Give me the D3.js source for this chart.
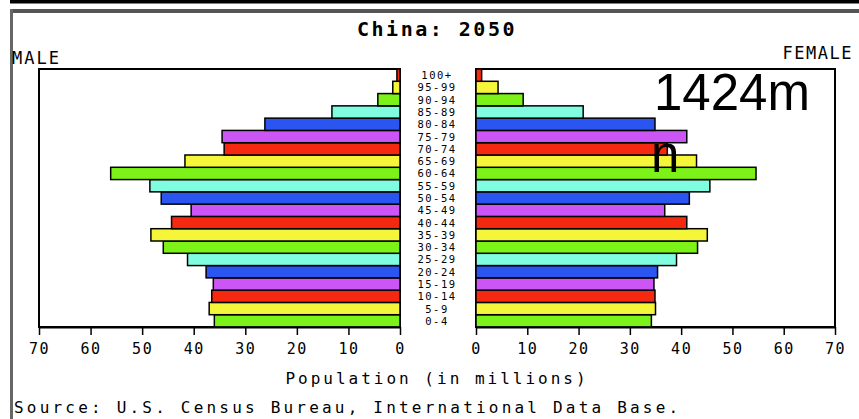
<!DOCTYPE html>
<html><head><meta charset="utf-8">
<script src="https://cdn.jsdelivr.net/npm/d3@7"></script>
<style>
html,body{margin:0;padding:0;background:#fff;}
svg{display:block;}
.mono{font-family:"DejaVu Sans Mono","Liberation Mono",monospace;}
</style></head>
<body>
<svg id="c" width="859" height="419"></svg>
<script>
const title = "China: 2050";
const ages = ["0-4","5-9","10-14","15-19","20-24","25-29","30-34","35-39","40-44","45-49","50-54","55-59","60-64","65-69","70-74","75-79","80-84","85-89","90-94","95-99","100+"];
const male   = [36.0,37.0,36.5,36.2,37.6,41.2,45.9,48.3,44.3,40.5,46.3,48.5,56.1,41.7,34.1,34.5,26.2,13.2,4.3,1.4,0.6];
const female = [34.2,35.0,34.9,34.7,35.4,39.1,43.2,45.1,41.1,36.8,41.6,45.6,54.6,43.0,37.3,41.1,34.9,20.9,9.2,4.3,1.1];
const palette = ["#7cf218","#f5f53a","#f52810","#cc55f5","#2a55f0","#80fce0"];
const ticks = [0,10,20,30,40,50,60,70];

const svg = d3.select("#c");

// outer frame
svg.append("rect").attr("x",10).attr("y",0).attr("width",849).attr("height",3.5).attr("fill","#000");
svg.append("rect").attr("x",10).attr("y",9).attr("width",849).attr("height",4).attr("fill","#555");
svg.append("rect").attr("x",10).attr("y",9).attr("width",3).attr("height",410).attr("fill","#666");

// title
svg.append("text").attr("class","mono").attr("x",437).attr("y",36).attr("text-anchor","middle")
  .attr("font-size",20).attr("font-weight","bold").attr("letter-spacing",2.5).text(title);
svg.append("text").attr("class","mono").attr("x",12).attr("y",64)
  .attr("font-size",17).attr("letter-spacing",2).text("MALE");
svg.append("text").attr("class","mono").attr("x",853).attr("y",59).attr("text-anchor","end")
  .attr("font-size",17).attr("letter-spacing",1.5).text("FEMALE");

const plotTop = 69, plotBottom = 327;
const y = d3.scaleBand().domain(ages).range([plotBottom, plotTop]).padding(0);
const xM = d3.scaleLinear().domain([0,70]).range([400,39]);
const xF = d3.scaleLinear().domain([0,70]).range([476,835]);

// panel frames
svg.append("rect").attr("x",xM(70)).attr("y",plotTop).attr("width",xM(0)-xM(70)).attr("height",plotBottom-plotTop)
  .attr("fill","none").attr("stroke","#000").attr("stroke-width",2);
svg.append("rect").attr("x",xF(0)).attr("y",plotTop).attr("width",xF(70)-xF(0)).attr("height",plotBottom-plotTop)
  .attr("fill","none").attr("stroke","#000").attr("stroke-width",2);

// bars
svg.append("g").selectAll("rect").data(ages).join("rect")
  .attr("x",(d,i)=>xM(male[i])).attr("y",d=>y(d))
  .attr("width",(d,i)=>xM(0)-xM(male[i])).attr("height",y.bandwidth())
  .attr("fill",(d,i)=>palette[i%6]).attr("stroke","#000").attr("stroke-width",1.5);
svg.append("g").selectAll("rect").data(ages).join("rect")
  .attr("x",xF(0)).attr("y",d=>y(d))
  .attr("width",(d,i)=>xF(female[i])-xF(0)).attr("height",y.bandwidth())
  .attr("fill",(d,i)=>palette[i%6]).attr("stroke","#000").attr("stroke-width",1.5);

// age labels
svg.append("g").selectAll("text").data(ages).join("text")
  .attr("class","mono").attr("x",437).attr("y",d=>y(d)+y.bandwidth()/2+4)
  .attr("text-anchor","middle").attr("font-size",10.5).attr("letter-spacing",1.5)
  .text(d=>d);

// axes
function styleAxis(g){
  g.selectAll("path").attr("stroke","#000").attr("stroke-width",2);
  g.selectAll("line").attr("stroke","#000").attr("stroke-width",1.5);
  g.selectAll("text").attr("font-family","DejaVu Sans Mono, monospace").attr("font-size",15)
   .attr("fill","#000").attr("letter-spacing",1.5);
}
svg.append("g").attr("transform",`translate(0,${plotBottom})`)
  .call(d3.axisBottom(xM).tickValues(ticks).tickSize(8).tickPadding(8).tickSizeOuter(0).tickFormat(d3.format("d")))
  .call(styleAxis);
svg.append("g").attr("transform",`translate(0,${plotBottom})`)
  .call(d3.axisBottom(xF).tickValues(ticks).tickSize(8).tickPadding(8).tickSizeOuter(0).tickFormat(d3.format("d")))
  .call(styleAxis);

svg.append("text").attr("class","mono").attr("x",437).attr("y",384).attr("text-anchor","middle")
  .attr("font-size",16).attr("letter-spacing",3).text("Population (in millions)");
svg.append("text").attr("class","mono").attr("x",14).attr("y",413)
  .attr("font-size",16).attr("letter-spacing",3.2).text("Source: U.S. Census Bureau, International Data Base.");

// overlay annotation
svg.append("text").attr("x",654).attr("y",110).attr("font-family","Liberation Sans, Arial, sans-serif")
  .attr("font-size",51).attr("fill","#000").text("1424m");
svg.append("text").attr("x",651).attr("y",172).attr("font-family","Liberation Sans, Arial, sans-serif")
  .attr("font-size",51).attr("fill","#000").text("n");
</script>
</body></html>
